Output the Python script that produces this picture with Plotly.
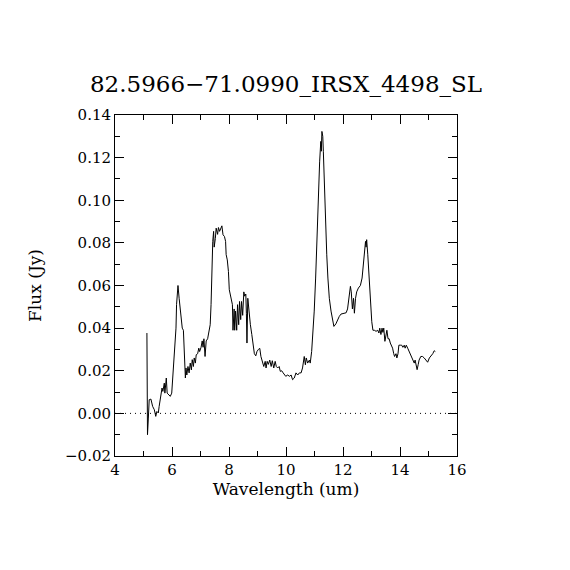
import plotly.graph_objects as go

# spectrum (wavelength in um, flux in Jy)
wavelength = [
    5.12, 5.14, 5.17, 5.20, 5.26, 5.32, 5.38, 5.43, 5.47, 5.52, 5.55, 5.61, 5.65, 5.68,
    5.73, 5.75, 5.80, 5.83, 5.89, 5.94, 5.99, 6.02, 6.06, 6.11, 6.14, 6.16, 6.19, 6.21,
    6.25, 6.29, 6.33, 6.36, 6.40, 6.43, 6.47, 6.49, 6.52, 6.56, 6.60, 6.64, 6.68, 6.71,
    6.75, 6.78, 6.82, 6.85, 6.90, 6.94, 6.97, 7.02, 7.06, 7.09, 7.12, 7.16, 7.20, 7.25,
    7.30, 7.34, 7.37, 7.39, 7.41, 7.43, 7.46, 7.48, 7.52, 7.55, 7.60, 7.63, 7.67, 7.72,
    7.75, 7.79, 7.84, 7.88, 7.90, 7.94, 7.98, 8.01, 8.05, 8.08, 8.12, 8.14, 8.18, 8.20,
    8.23, 8.27, 8.30, 8.34, 8.37, 8.41, 8.44, 8.48, 8.52, 8.55, 8.59, 8.61, 8.63, 8.66,
    8.68, 8.72, 8.75, 8.80, 8.84, 8.89, 8.94, 8.98, 9.03, 9.08, 9.12, 9.17, 9.22, 9.27,
    9.30, 9.34, 9.38, 9.43, 9.48, 9.52, 9.57, 9.62, 9.66, 9.71, 9.76, 9.80, 9.85, 9.90,
    9.94, 9.99, 10.06, 10.12, 10.18, 10.23, 10.29, 10.35, 10.41, 10.47, 10.53, 10.58,
    10.64, 10.68, 10.71, 10.76, 10.82, 10.85, 10.90, 10.94, 10.99, 11.04, 11.08, 11.13,
    11.18, 11.22, 11.24, 11.26, 11.29, 11.31, 11.35, 11.38, 11.43, 11.47, 11.52, 11.58,
    11.64, 11.68, 11.75, 11.81, 11.87, 11.93, 12.01, 12.11, 12.16, 12.21, 12.26, 12.29,
    12.33, 12.37, 12.40, 12.44, 12.48, 12.54, 12.61, 12.67, 12.71, 12.75, 12.79, 12.81,
    12.83, 12.87, 12.90, 12.94, 12.97, 13.01, 13.05, 13.10, 13.16, 13.22, 13.26, 13.29,
    13.33, 13.37, 13.40, 13.43, 13.47, 13.51, 13.54, 13.58, 13.62, 13.66, 13.69, 13.74,
    13.78, 13.81, 13.86, 13.89, 13.93, 13.96, 14.01, 14.06, 14.10, 14.15, 14.18, 14.22,
    14.27, 14.32, 14.38, 14.44, 14.50, 14.53, 14.57, 14.60, 14.64, 14.67, 14.73, 14.79,
    14.85, 14.91, 14.97, 15.03, 15.09, 15.15, 15.20, 15.24,
]
flux = [
    0.0377, -0.0100, -0.0022, 0.0064, 0.0067, 0.0033, 0.0017, -0.0014, 0.0009, 0.0002,
    0.0033, 0.0088, 0.0119, 0.0103, 0.0142, 0.0095, 0.0166, 0.0095, 0.0088, 0.0080,
    0.0095, 0.0150, 0.0220, 0.0306, 0.0400, 0.0510, 0.0596, 0.0600, 0.0540, 0.0490,
    0.0416, 0.0400, 0.0390, 0.0290, 0.0166, 0.0213, 0.0180, 0.0220, 0.0190, 0.0236,
    0.0204, 0.0252, 0.0220, 0.0260, 0.0236, 0.0275, 0.0280, 0.0306, 0.0290, 0.0310,
    0.0340, 0.0310, 0.0350, 0.0267, 0.0340, 0.0350, 0.0390, 0.0416, 0.0510, 0.0620,
    0.0650, 0.0807, 0.0854, 0.0780, 0.0820, 0.0869, 0.0840, 0.0872, 0.0854, 0.0877,
    0.0880, 0.0838, 0.0830, 0.0807, 0.0745, 0.0720, 0.0666, 0.0580, 0.0557, 0.0540,
    0.0510, 0.0390, 0.0490, 0.0390, 0.0480, 0.0390, 0.0510, 0.0416, 0.0525, 0.0440,
    0.0525, 0.0460, 0.0570, 0.0550, 0.0560, 0.0470, 0.0330, 0.0540, 0.0510, 0.0460,
    0.0416, 0.0370, 0.0320, 0.0280, 0.0270, 0.0290, 0.0300, 0.0305, 0.0267, 0.0244,
    0.0220, 0.0244, 0.0213, 0.0244, 0.0230, 0.0250, 0.0220, 0.0247, 0.0213, 0.0244,
    0.0220, 0.0213, 0.0220, 0.0197, 0.0200, 0.0190, 0.0180, 0.0174, 0.0180, 0.0174,
    0.0180, 0.0158, 0.0166, 0.0190, 0.0180, 0.0190, 0.0190, 0.0213, 0.0267, 0.0228,
    0.0260, 0.0236, 0.0250, 0.0236, 0.0290, 0.0370, 0.0480, 0.0635, 0.0820, 0.1026,
    0.1180, 0.1276, 0.1230, 0.1323, 0.1300, 0.1230, 0.1026, 0.0885, 0.0744, 0.0635,
    0.0540, 0.0480, 0.0430, 0.0408, 0.0420, 0.0440, 0.0455, 0.0466, 0.0470, 0.0472,
    0.0490, 0.0557, 0.0596, 0.0570, 0.0490, 0.0540, 0.0470, 0.0540, 0.0570, 0.0588,
    0.0600, 0.0635, 0.0697, 0.0760, 0.0807, 0.0780, 0.0815, 0.0744, 0.0666, 0.0570,
    0.0490, 0.0430, 0.0390, 0.0390, 0.0385, 0.0390, 0.0377, 0.0400, 0.0370, 0.0400,
    0.0380, 0.0400, 0.0338, 0.0380, 0.0390, 0.0350, 0.0350, 0.0330, 0.0320, 0.0306,
    0.0280, 0.0267, 0.0280, 0.0260, 0.0280, 0.0320, 0.0320, 0.0320, 0.0310, 0.0320,
    0.0306, 0.0320, 0.0306, 0.0290, 0.0275, 0.0260, 0.0236, 0.0250, 0.0220, 0.0205,
    0.0230, 0.0250, 0.0267, 0.0267, 0.0260, 0.0248, 0.0240, 0.0260, 0.0270, 0.0280,
    0.0294, 0.0290,
]

x_range = [4, 16]
y_range = [-0.02, 0.14]
chart_title = "82.5966\u221271.0990_IRSX_4498_SL"

serif = "DejaVu Serif"

fig = go.Figure()

fig.add_trace(go.Scatter(
    x=wavelength, y=flux,
    mode='lines',
    line=dict(color='black', width=1),
    showlegend=False,
    hoverinfo='skip'
))

# dotted zero line across the plot (sparse dots like the original)
fig.add_hline(y=0, line=dict(color='black', width=1, dash='1px,4px'))

axis_common = dict(
    showgrid=False,
    zeroline=False,
    showline=True,
    linecolor='black',
    linewidth=1,
    mirror='allticks',
    ticks='inside',
    ticklen=9,
    tickwidth=1,
    tickcolor='black',
    tickfont=dict(family=serif, size=15, color='black'),
)

# page body adds ~7px offset, so margins are shifted to compensate
fig.update_layout(
    width=570, height=570,
    paper_bgcolor='white',
    plot_bgcolor='white',
    margin=dict(l=107, r=121, t=107, b=122),
    title=dict(
        text=chart_title,
        font=dict(family=serif, size=23, color='black'),
        x=(285 - 7) / 570, xanchor='center',
        yref='container', y=1 - 76 / 570, yanchor='middle'
    ),
    xaxis=dict(
        range=x_range,
        dtick=2,
        minor=dict(ticks='inside', dtick=1, ticklen=5, tickcolor='black'),
        title=dict(text='Wavelength (um)', font=dict(family=serif, size=17, color='black'), standoff=5),
        **axis_common
    ),
    yaxis=dict(
        range=y_range,
        dtick=0.02,
        tickformat='.2f',
        minor=dict(ticks='inside', dtick=0.01, ticklen=5, tickcolor='black'),
        title=dict(text='Flux (Jy)', font=dict(family=serif, size=17, color='black'), standoff=19),
        **axis_common
    ),
)

fig.write_html("out.html")
